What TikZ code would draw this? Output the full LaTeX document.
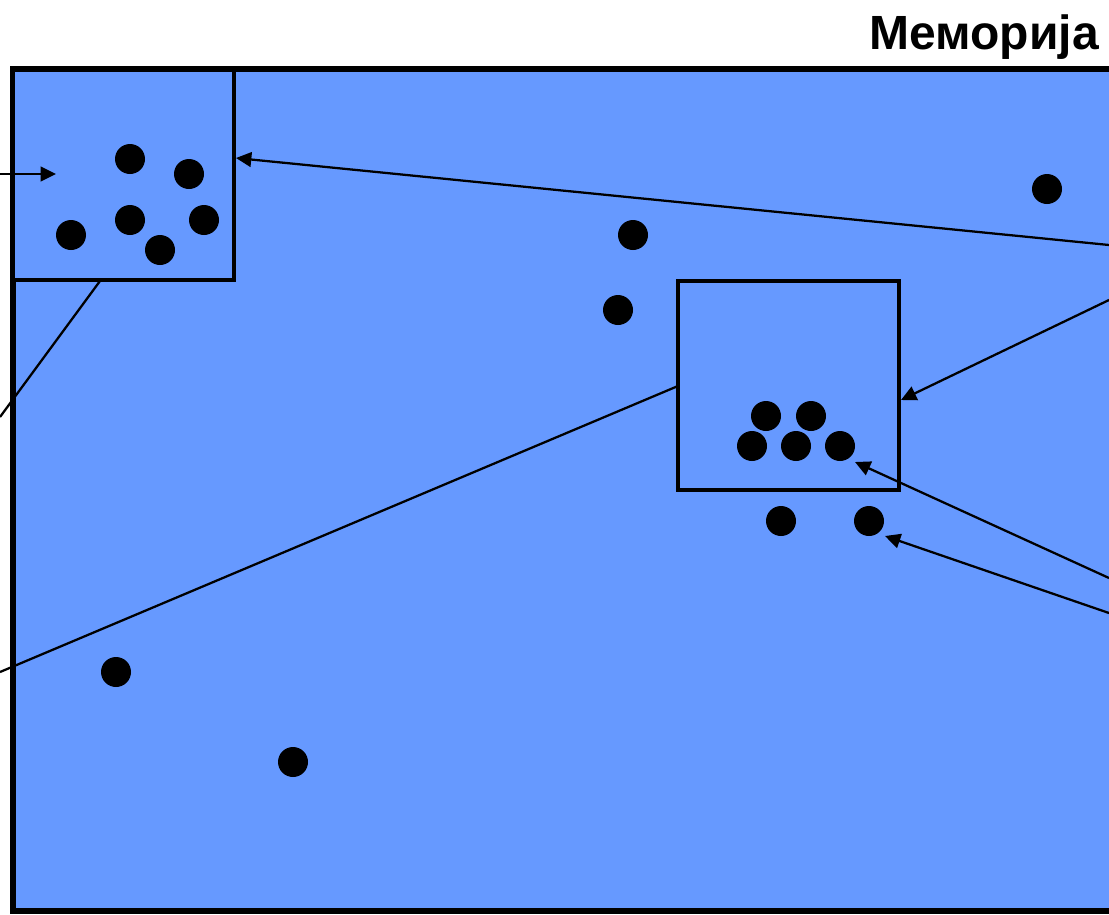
\documentclass[tikz,border=0pt]{standalone}
\usepackage{fontspec}
\setmainfont{Liberation Sans}
\usetikzlibrary{arrows.meta}
\definecolor{memblue}{RGB}{102,153,255}
\tikzset{
  dot/.style={circle,fill=black,inner sep=0pt,minimum size=22.5pt},
  frame/.style={draw=black,line width=4.5pt},
  region/.style={draw=black,line width=2.6pt,fill=memblue},
  conn/.style={draw=black,line width=1.7pt},
  arr/.style={conn,-{Triangle[length=11.5pt,width=11pt]}},
}
\begin{document}
\begin{tikzpicture}[x=0.75pt,y=-0.75pt]
\useasboundingbox (0,0) rectangle (1109,914);
\clip (0,0) rectangle (1109,914);
% main memory
\path[frame,fill=memblue] (13,69) rectangle (1130,911);
\node[anchor=base east,font=\bfseries\fontsize{36}{42}\selectfont,inner sep=0pt] (title) at (1099,49) {Меморија};
% regions
\path[region] (13,70) rectangle (234,280);
\path[region] (678,281) rectangle (899,490);
% dots left box
\node[dot] (a1) at (130,159) {};
\node[dot] (a2) at (189,174) {};
\node[dot] (a3) at (130,220) {};
\node[dot] (a4) at (204,220) {};
\node[dot] (a5) at (71,235) {};
\node[dot] (a6) at (160,250) {};
% middle box dots
\node[dot] (b1) at (766,416) {};
\node[dot] (b2) at (811,416) {};
\node[dot] (b3) at (752,446) {};
\node[dot] (b4) at (796,446) {};
\node[dot] (b5) at (840,446) {};
% other dots
\node[dot] (c1) at (1047,189) {};
\node[dot] (c2) at (633,235) {};
\node[dot] (c3) at (618,310) {};
\node[dot] (c4) at (781,521) {};
\node[dot] (c5) at (869,521) {};
\node[dot] (c6) at (116,672) {};
\node[dot] (c7) at (293,762) {};
% connector ends
\coordinate (inL) at (-10,174);
\coordinate (inLtip) at (56,174);
\coordinate (Aright) at (236,158);
\coordinate (R1) at (1109,245);
\coordinate (Abottom) at (100,281);
\coordinate (L1) at (0,417);
\coordinate (Bleft) at (678,386);
\coordinate (L2) at (0,672);
\coordinate (R2) at (1109,300);
\coordinate (Bright) at (901,400);
\coordinate (R3) at (1109,578);
\coordinate (b5tip) at (855,462);
\coordinate (R4) at (1109,613);
\coordinate (c5tip) at (885,536);
% connectors
\draw[arr] (inL) -- (inLtip);
\draw[arr] (R1) -- (Aright);
\draw[conn] (Abottom) -- (L1);
\draw[conn] (Bleft) -- (L2);
\draw[arr] (R2) -- (Bright);
\draw[arr] (R3) -- (b5tip);
\draw[arr] (R4) -- (c5tip);
\end{tikzpicture}
\end{document}
